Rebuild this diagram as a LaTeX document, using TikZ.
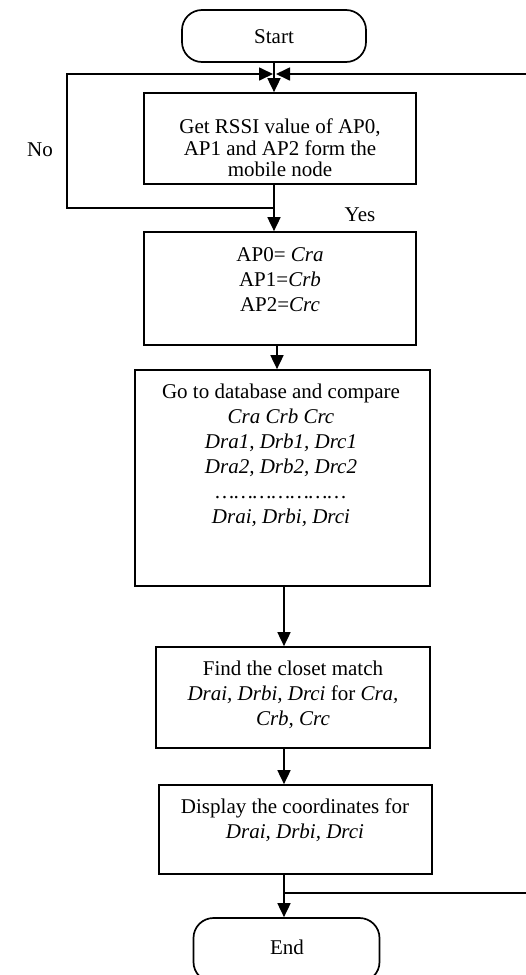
\documentclass[tikz,border=0pt]{standalone}
\usepackage{fontspec}
\setmainfont{Liberation Serif}
\usetikzlibrary{arrows.meta}
\begin{document}
\begin{tikzpicture}[x=1pt,y=-1pt,
  line width=1.7pt,
  boxnode/.style={draw, rectangle, inner sep=0pt},
  termnode/.style={draw, rectangle, rounded corners=20pt, inner sep=0pt},
  txt/.style={font=\fontsize{21}{25}\selectfont, align=center, inner sep=0pt},
  arr/.style={-{Triangle[length=14pt,width=13pt]}}]
\clip (0,0) rectangle (526,975);
\fill[white] (0,0) rectangle (526,975);
% nodes
\node[termnode, minimum width=184pt, minimum height=52pt] (start) at (274,36) {};
\node[txt] (starttxt) at (274,37) {Start};
\node[boxnode, minimum width=272pt, minimum height=91pt] (box1) at (280,138.5) {};
\node[txt, font=\fontsize{21}{21.3}\selectfont] (t1) at (280,148) {Get RSSI value of AP0,\\AP1 and AP2 form the\\mobile node};
\node[boxnode, minimum width=272pt, minimum height=113pt] (box2) at (280,288.5) {};
\node[txt] (t2) at (280,280) {AP0= \textit{Cra}\\AP1=\textit{Crb}\\AP2=\textit{Crc}};
\node[boxnode, minimum width=295pt, minimum height=216pt] (box3) at (282.5,478) {};
\node[txt] (t3) at (281,455) {Go to database and compare\\\textit{Cra Crb Crc}\\\textit{Dra1, Drb1, Drc1}\\\textit{Dra2, Drb2, Drc2}\\\textit{…………………}\\\textit{Drai, Drbi, Drci}};
\node[boxnode, minimum width=274pt, minimum height=101pt] (box4) at (293,697.5) {};
\node[txt] (t4) at (293,695) {Find the closet match\\\textit{Drai, Drbi, Drci} for \textit{Cra,}\\\textit{Crb, Crc}};
\node[boxnode, minimum width=273pt, minimum height=89pt] (box5) at (295.5,829.5) {};
\node[txt] (t5) at (295,820.5) {Display the coordinates for\\\textit{Drai, Drbi, Drci}};
\node[termnode, minimum width=186pt, minimum height=64pt] (end) at (286.5,950) {};
\node[txt] (endtxt) at (287,947) {End};
\node[txt] (no) at (40,150) {No};
\node[txt] (yes) at (360,215) {Yes};
% helper coordinates
\coordinate (merge) at (274,74);
\coordinate (split) at (274,208);
\coordinate (upper) at (274,0);
\coordinate (mid) at (277,0);
\coordinate (spine) at (284,0);
\coordinate (branch) at (284,893);
\coordinate (ltop) at (67,74);
\coordinate (lbot) at (67,208);
\coordinate (rtop) at (540,74);
\coordinate (rbot) at (540,893);
% connectors
\draw[arr] (start.south) -- (upper |- box1.north);
\draw[arr] (upper |- box1.south) -- (upper |- box2.north);
\draw[arr] (split) -- (lbot) -- (ltop) -- ([xshift=-1pt]merge);
\draw[arr] (branch) -- (rbot) -- (rtop) -- ([xshift=2pt]merge);
\draw[arr] (mid |- box2.south) -- (mid |- box3.north);
\draw[arr] (spine |- box3.south) -- (spine |- box4.north);
\draw[arr] (spine |- box4.south) -- (spine |- box5.north);
\draw[arr] (spine |- box5.south) -- (spine |- end.north);
\end{tikzpicture}
\end{document}
